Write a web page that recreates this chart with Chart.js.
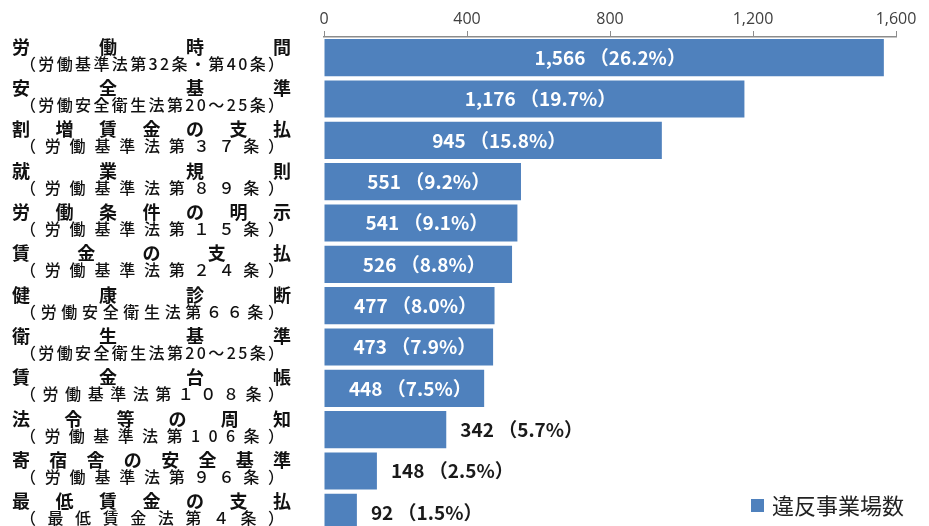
<!DOCTYPE html>
<html>
<head>
<meta charset="utf-8">
<script src="https://cdn.jsdelivr.net/npm/chart.js@4"></script>
<style>
    html, body { margin: 0; padding: 0; background: #fff; overflow: hidden; }
    #wrap { position: relative; width: 929px; height: 533px; }
</style>
</head>
<body>
<div id="wrap"><canvas id="chart"></canvas></div>
<script>
// 違反事項ごとの違反事業場数
const items = ['労働時間', '安全基準', '割増賃金の支払', '就業規則', '労働条件の明示', '賃金の支払',
    '健康診断', '衛生基準', '賃金台帳', '法令等の周知', '寄宿舎の安全基準', '最低賃金の支払'];
const laws = ['（労働基準法第32条・第40条）', '（労働安全衛生法第20～25条）', '（労働基準法第３７条）',
    '（労働基準法第８９条）', '（労働基準法第１５条）', '（労働基準法第２４条）', '（労働安全衛生法第６６条）',
    '（労働安全衛生法第20～25条）', '（労働基準法第１０８条）', '（労働基準法第106条）',
    '（労働基準法第９６条）', '（最低賃金法第４条）'];
const counts = [1566, 1176, 945, 551, 541, 526, 477, 473, 448, 342, 148, 92];
const shares = [26.2, 19.7, 15.8, 9.2, 9.1, 8.8, 8.0, 7.9, 7.5, 5.7, 2.5, 1.5];
const xTicks = [0, 400, 800, 1200, 1600];
const seriesName = '違反事業場数';

const BAR_COLOR = '#4f81bd';
const LABEL_FONT = 'bold 19px "Liberation Sans Narrow", "Noto Sans CJK JP", sans-serif';

/**
 * Draw text with its characters spread evenly between left and right
 */
function spreadText(ctx, text, left, right, y) {
    const chars = Array.from(text);
    const widths = chars.map(c => ctx.measureText(c).width);
    const total = widths.reduce((a, b) => a + b, 0);
    const gap = chars.length > 1 ? (right - left - total) / (chars.length - 1) : 0;
    let x = left;
    chars.forEach((c, i) => {
        ctx.fillText(c, x, y);
        x += widths[i] + gap;
    });
}

// two-line category labels on the left
const categoryLabels = {
    id: 'categoryLabels',
    afterDraw(chart) {
        const ctx = chart.ctx;
        const yScale = chart.scales.y;
        ctx.save();
        ctx.fillStyle = '#111';
        ctx.textAlign = 'left';
        ctx.textBaseline = 'middle';
        items.forEach((name, i) => {
            const yc = yScale.getPixelForValue(i);
            ctx.font = 'bold 18px "Noto Sans CJK JP", sans-serif';
            spreadText(ctx, name, 12, 291, yc - 11);
            ctx.font = '500 16px "Noto Sans CJK JP", sans-serif';
            spreadText(ctx, laws[i], 20, 284, yc + 6);
        });
        ctx.restore();
    }
};

// value (share) labels, inside the bar when it fits, otherwise after it
const valueLabels = {
    id: 'valueLabels',
    afterDatasetsDraw(chart) {
        const ctx = chart.ctx;
        const meta = chart.getDatasetMeta(0);
        ctx.save();
        ctx.font = LABEL_FONT;
        ctx.textBaseline = 'middle';
        meta.data.forEach((bar, i) => {
            const text = counts[i].toLocaleString('en-US') + ' （' + shares[i].toFixed(1) + '%）';
            const w = ctx.measureText(text).width;
            const barLen = bar.x - bar.base;
            if (w + 20 < barLen) {
                ctx.fillStyle = '#fff';
                ctx.textAlign = 'center';
                ctx.fillText(text, (bar.x + bar.base) / 2 + 6, bar.y);
            } else {
                ctx.fillStyle = '#1a1a1a';
                ctx.textAlign = 'left';
                ctx.fillText(text, bar.x + 14, bar.y);
            }
        });
        ctx.restore();
    }
};

// legend box in the lower right corner
const cornerLegend = {
    id: 'cornerLegend',
    afterDraw(chart) {
        const ctx = chart.ctx;
        const x = chart.width - 178;
        const y = 506;
        ctx.save();
        ctx.fillStyle = BAR_COLOR;
        ctx.fillRect(x, y - 7, 13, 13);
        ctx.fillStyle = '#222';
        ctx.font = '22px "Noto Sans CJK JP", sans-serif';
        ctx.textAlign = 'left';
        ctx.textBaseline = 'middle';
        ctx.fillText(chart.data.datasets[0].label, x + 21, y);
        ctx.restore();
    }
};

new Chart(document.getElementById('chart'), {
    type: 'bar',
    data: {
        labels: items,
        datasets: [{
            label: seriesName,
            data: counts,
            backgroundColor: BAR_COLOR,
            categoryPercentage: 0.9,
            barPercentage: 1.0,
        }],
    },
    options: {
        indexAxis: 'y',
        responsive: true,
        maintainAspectRatio: false,
        animation: false,
        layout: { padding: { left: 324, right: 33, top: 0, bottom: 0 } },
        plugins: {
            legend: { display: false },
            tooltip: { enabled: false },
        },
        scales: {
            x: {
                position: 'top',
                min: 0,
                max: 1600,
                afterBuildTicks: (scale) => { scale.ticks = xTicks.map(v => ({ value: v })); },
                afterFit: (scale) => { scale.height = 37; },
                ticks: {
                    padding: 2,
                    color: '#404040',
                    font: { family: '"Open Sans", "Liberation Sans", sans-serif', size: 16 },
                    callback: v => v.toLocaleString('en-US'),
                },
                grid: {
                    drawOnChartArea: false,
                    tickLength: 6,
                    color: '#8c8c8c',
                },
                border: { color: '#8c8c8c', width: 1.5 },
            },
            y: {
                display: false,
            },
        },
    },
    plugins: [categoryLabels, valueLabels, cornerLegend],
});
</script>
</body>
</html>
